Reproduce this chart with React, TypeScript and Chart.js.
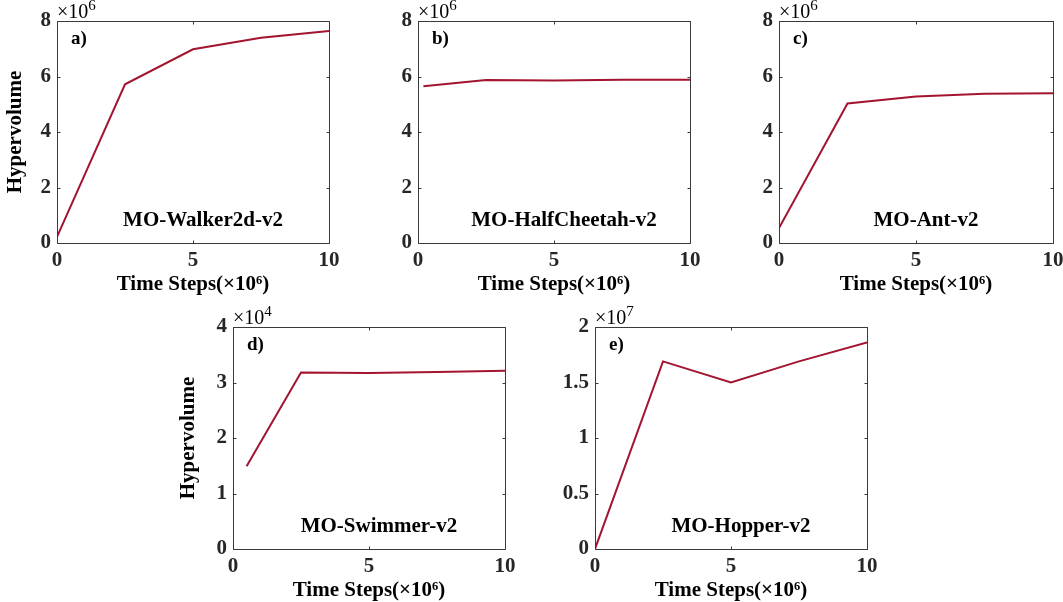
import React, { useEffect, useRef } from "react";
import { Chart, registerables } from "chart.js";

Chart.register(...registerables);

const FONT = '"Liberation Serif", "Times New Roman", Times, serif';
const LINE_COLOR = "#A2142F";
const AXIS_COLOR = "#3a3a3a";
const TICK_TEXT = "#262626";

// Time steps (×10^6)
const xTicks = [0, 5, 10];

// a) MO-Walker2d-v2 (×10^6)
const walkerSteps = [0, 2.5, 5, 7.5, 10];
const walkerHV = [0.22, 5.72, 6.98, 7.4, 7.64];
// b) MO-HalfCheetah-v2 (×10^6)
const cheetahSteps = [0.2, 2.5, 5, 7.5, 10];
const cheetahHV = [5.65, 5.87, 5.86, 5.88, 5.88];
// c) MO-Ant-v2 (×10^6)
const antSteps = [0, 2.5, 5, 7.5, 10];
const antHV = [0.54, 5.03, 5.28, 5.38, 5.4];
// d) MO-Swimmer-v2 (×10^4)
const swimmerSteps = [0.5, 2.5, 5, 7.5, 10];
const swimmerHV = [1.49, 3.18, 3.17, 3.19, 3.21];
// e) MO-Hopper-v2 (×10^7)
const hopperSteps = [0, 2.5, 5, 7.5, 10];
const hopperHV = [0, 1.69, 1.5, 1.69, 1.86];

const yTicks6 = [0, 2, 4, 6, 8];
const yTicks4 = [0, 1, 2, 3, 4];
const yTicks7 = [0, 0.5, 1, 1.5, 2];

const YW = 57; // y scale box width
const XH = 54; // x scale box height
const PT = 21; // top padding
const PR = 20; // right padding

const decorPlugin = {
  id: "panelDecor",
  afterDatasetsDraw(chart: any) {
    const { ctx, chartArea } = chart;
    const { left, right, top, bottom } = chartArea;
    const x0 = Math.round(left) + 0.5;
    const x1 = Math.round(right) + 0.5;
    const y0 = Math.round(top) + 0.5;
    const y1 = Math.round(bottom) + 0.5;
    ctx.save();
    ctx.strokeStyle = AXIS_COLOR;
    ctx.lineWidth = 1;
    ctx.beginPath();
    ctx.rect(x0, y0, x1 - x0, y1 - y0);
    ctx.stroke();
    const tl = 3;
    const xs = chart.scales.x;
    const ys = chart.scales.y;
    ctx.beginPath();
    xs.ticks.forEach((t: any) => {
      const px = Math.round(xs.getPixelForValue(t.value)) + 0.5;
      ctx.moveTo(px, y1);
      ctx.lineTo(px, y1 - tl);
      ctx.moveTo(px, y0);
      ctx.lineTo(px, y0 + tl);
    });
    ys.ticks.forEach((t: any) => {
      const py = Math.round(ys.getPixelForValue(t.value)) + 0.5;
      ctx.moveTo(x0, py);
      ctx.lineTo(x0 + tl, py);
      ctx.moveTo(x1, py);
      ctx.lineTo(x1 - tl, py);
    });
    ctx.stroke();
    ctx.restore();
  },
  afterDraw(chart: any, _args: any, opts: any) {
    const { ctx, chartArea } = chart;
    const { left, right, top, bottom } = chartArea;
    ctx.save();
    ctx.fillStyle = "#000";
    // exponent
    ctx.textAlign = "left";
    ctx.textBaseline = "alphabetic";
    ctx.font = `20px ${FONT}`;
    const base = "\u00d710";
    ctx.fillText(base, left, top - 3);
    const w = ctx.measureText(base).width;
    ctx.font = `15px ${FONT}`;
    ctx.fillText(opts.exp, left + w, top - 11);
    // tag
    ctx.font = `bold 19px ${FONT}`;
    ctx.fillText(opts.tag, left + 14, top + 23);
    // env name
    ctx.textAlign = "center";
    ctx.font = `bold 21px ${FONT}`;
    ctx.fillText(opts.name, (left + right) / 2 + 10, bottom - 17);
    ctx.restore();
  },
};

type PanelProps = {
  left: number;
  top: number;
  w: number;
  h: number;
  xs: number[];
  ys: number[];
  yTicks: number[];
  exp: string;
  tag: string;
  name: string;
  yTitle: boolean;
  yTitlePad: number;
};

function Panel(p: PanelProps) {
  const ref = useRef<HTMLCanvasElement>(null);
  const W = p.w + YW + PR;
  const H = p.h + PT + XH;
  useEffect(() => {
    const tickFont = { family: FONT, size: 21, weight: "bold" as const };
    const chart = new Chart(ref.current!, {
      type: "line",
      data: {
        datasets: [
          {
            data: p.xs.map((x, i) => ({ x, y: p.ys[i] })),
            borderColor: LINE_COLOR,
            borderWidth: 2,
            pointRadius: 0,
            tension: 0,
            fill: false,
          },
        ],
      },
      options: {
        animation: false,
        responsive: false,
        maintainAspectRatio: false,
        layout: { padding: { top: PT, right: PR, left: 0, bottom: 0 } },
        plugins: {
          legend: { display: false },
          tooltip: { enabled: false },
          panelDecor: { exp: p.exp, tag: p.tag, name: p.name },
        } as any,
        scales: {
          x: {
            type: "linear",
            min: 0,
            max: 10,
            afterBuildTicks: (s: any) => {
              s.ticks = xTicks.map((v) => ({ value: v }));
            },
            afterFit: (s: any) => {
              s.height = XH;
            },
            grid: { display: false, drawTicks: false },
            border: { display: false },
            ticks: {
              font: tickFont,
              color: TICK_TEXT,
              padding: 5,
              maxRotation: 0,
              autoSkip: false,
              callback: (v: any) => `${v}`,
            },
            title: {
              display: true,
              text: "Time Steps(\u00d710\u2076)",
              font: { family: FONT, size: 21, weight: "bold" },
              color: "#000",
              padding: 0,
            },
          },
          y: {
            type: "linear",
            min: p.yTicks[0],
            max: p.yTicks[p.yTicks.length - 1],
            afterBuildTicks: (s: any) => {
              s.ticks = p.yTicks.map((v) => ({ value: v }));
            },
            afterFit: (s: any) => {
              s.width = YW;
            },
            grid: { display: false, drawTicks: false },
            border: { display: false },
            ticks: {
              font: tickFont,
              color: TICK_TEXT,
              padding: 6,
              autoSkip: false,
              callback: (v: any) => `${v}`,
            },
            title: {
              display: p.yTitle,
              text: "Hypervolume",
              font: { family: FONT, size: 21, weight: "bold" },
              color: "#000",
              padding: { top: p.yTitlePad, bottom: 0 },
            },
          },
        },
      } as any,
      plugins: [decorPlugin],
    });
    return () => chart.destroy();
  }, []);
  return (
    <div style={{ position: "absolute", left: p.left - YW, top: p.top - PT, width: W, height: H }}>
      <canvas ref={ref} width={W} height={H} style={{ display: "block", width: W, height: H }} />
    </div>
  );
}

export default function App() {
  return (
    <div
      style={{
        position: "absolute",
        left: 0,
        top: 0,
        width: 1063,
        height: 602,
        overflow: "hidden",
        background: "#fff",
      }}
    >
      <Panel left={57} top={21} w={272} h={222} xs={walkerSteps} ys={walkerHV} yTicks={yTicks6} exp="6" tag="a)" name="MO-Walker2d-v2" yTitle={true} yTitlePad={3} />
      <Panel left={418} top={21} w={272} h={222} xs={cheetahSteps} ys={cheetahHV} yTicks={yTicks6} exp="6" tag="b)" name="MO-HalfCheetah-v2" yTitle={false} yTitlePad={0} />
      <Panel left={779} top={21} w={274} h={222} xs={antSteps} ys={antHV} yTicks={yTicks6} exp="6" tag="c)" name="MO-Ant-v2" yTitle={false} yTitlePad={0} />
      <Panel left={233} top={327} w={272} h={222} xs={swimmerSteps} ys={swimmerHV} yTicks={yTicks4} exp="4" tag="d)" name="MO-Swimmer-v2" yTitle={true} yTitlePad={0} />
      <Panel left={595} top={327} w={272} h={222} xs={hopperSteps} ys={hopperHV} yTicks={yTicks7} exp="7" tag="e)" name="MO-Hopper-v2" yTitle={false} yTitlePad={0} />
    </div>
  );
}
